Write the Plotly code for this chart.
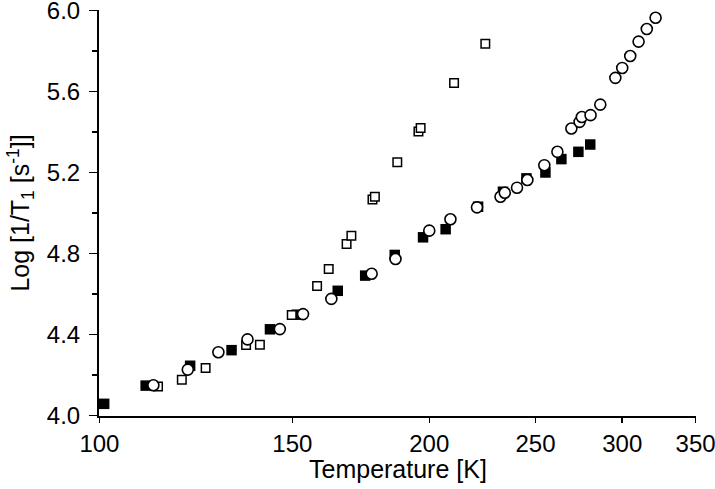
import plotly.graph_objects as go
import math

# Filled squares
fs_T = [101.0, 110.2, 121.0, 132.0, 143.1, 151.4, 165.0, 174.8, 186.0, 197.4, 207.0,
        221.6, 233.5, 245.3, 255.3, 264.0, 273.6, 280.5]
fs_y = [4.058, 4.148, 4.246, 4.323, 4.426, 4.498, 4.616, 4.691, 4.793, 4.880, 4.920,
        5.031, 5.105, 5.171, 5.200, 5.266, 5.302, 5.338]

# Open squares
os_T = [113.1, 118.9, 125.0, 136.1, 140.1, 149.8, 158.0, 161.9, 168.1, 169.8, 177.5,
        178.4, 187.0, 195.5, 196.4, 210.7, 225.0]
os_y = [4.144, 4.177, 4.235, 4.348, 4.350, 4.496, 4.640, 4.723, 4.847, 4.888, 5.067,
        5.080, 5.251, 5.402, 5.419, 5.642, 5.836]

# Open circles
oc_T = [112.0, 120.4, 128.4, 136.5, 146.1, 153.4, 162.8, 177.2, 186.3, 200.0, 209.1,
        221.1, 232.3, 234.4, 240.5, 245.8, 254.7, 261.8, 269.6, 274.3, 275.6, 280.7,
        286.5, 295.7, 300.0, 305.1, 310.5, 315.9, 321.8]
oc_y = [4.150, 4.227, 4.313, 4.376, 4.427, 4.501, 4.576, 4.700, 4.773, 4.913, 4.969,
        5.028, 5.080, 5.100, 5.125, 5.163, 5.236, 5.302, 5.417, 5.450, 5.474, 5.483,
        5.535, 5.667, 5.716, 5.775, 5.846, 5.908, 5.964]

x_ticks = [100, 150, 200, 250, 300, 350]
y_ticks = [4.0, 4.4, 4.8, 5.2, 5.6, 6.0]
y_minor = [4.2, 4.6, 5.0, 5.4, 5.8]

x_title = "Temperature [K]"
y_title = "Log [1/T<sub>1</sub> [s<sup>-1</sup>]]"

FONT = "Liberation Sans, Arial, sans-serif"

fig = go.Figure()
fig.add_trace(go.Scatter(x=fs_T, y=fs_y, mode="markers",
                         marker=dict(symbol="square", size=10.5, color="black",
                                     line=dict(width=0)),
                         cliponaxis=False, showlegend=False, hoverinfo="skip"))
fig.add_trace(go.Scatter(x=os_T, y=os_y, mode="markers",
                         marker=dict(symbol="square", size=8.5, color="white",
                                     line=dict(width=1.5, color="black")),
                         cliponaxis=False, showlegend=False, hoverinfo="skip"))
fig.add_trace(go.Scatter(x=oc_T, y=oc_y, mode="markers",
                         marker=dict(symbol="circle", size=11, color="white",
                                     line=dict(width=1.6, color="black")),
                         cliponaxis=False, showlegend=False, hoverinfo="skip"))

fig.update_layout(
    template="none",
    width=715, height=489,
    margin=dict(l=99, r=19, t=10, b=73, autoexpand=False),
    paper_bgcolor="white", plot_bgcolor="white",
    font=dict(family=FONT, size=24, color="black"),
    showlegend=False,
    xaxis=dict(
        type="log", range=[2 - 0.0004, math.log10(350) + 0.0004], tickvals=x_ticks,
        ticktext=[str(v) for v in x_ticks],
        showline=True, linecolor="black", linewidth=2,
        ticks="outside", ticklen=5, tickwidth=1.5, tickcolor="black",
        ticklabelstandoff=0, ticklabeloverflow="allow",
        showgrid=False, zeroline=False, automargin=False,
    ),
    yaxis=dict(
        range=[4.0 - 0.002, 6.0 + 0.002], tickvals=y_ticks,
        ticktext=["%.1f" % v for v in y_ticks],
        showline=True, linecolor="black", linewidth=2,
        ticks="outside", ticklen=8, tickwidth=1.5, tickcolor="black",
        ticklabelstandoff=4, ticklabeloverflow="allow",
        minor=dict(tickvals=y_minor, ticks="outside", ticklen=5,
                   tickwidth=1.5, tickcolor="black", showgrid=False),
        showgrid=False, zeroline=False, automargin=False,
    ),
    annotations=[
        dict(text=x_title, xref="paper", yref="paper", x=0.5, y=(416 - 469) / 406,
             xanchor="center", yanchor="middle", showarrow=False,
             font=dict(size=25)),
        dict(text=y_title, xref="paper", yref="paper", x=(21 - 99.3) / 596.4,
             y=0.5, xanchor="center", yanchor="middle", textangle=-90,
             showarrow=False, font=dict(size=25)),
    ],
)

fig.write_html("out.html",
               config={"displayModeBar": False, "staticPlot": True},
               post_script="document.body.style.margin='0px';document.body.style.overflow='hidden';")
